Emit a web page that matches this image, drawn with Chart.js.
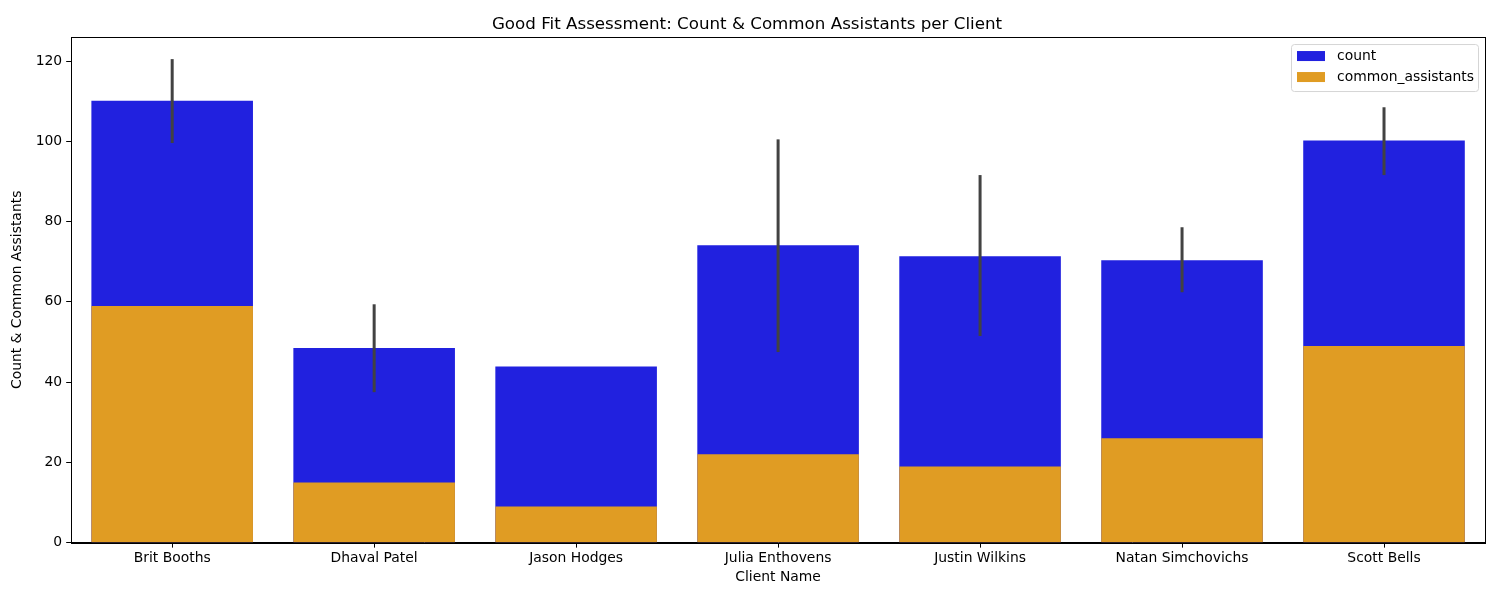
<!DOCTYPE html>
<html>
<head>
<meta charset="utf-8">
<script src="https://cdn.jsdelivr.net/npm/chart.js@4.4.1/dist/chart.umd.min.js"></script>
<style>
  html, body { margin: 0; padding: 0; background: #fff; }
  #wrap { width: 1500px; height: 600px; }
</style>
</head>
<body>
<div id="wrap"><canvas id="grafico"></canvas></div>
<script>
// Dados
const clientes = ['Brit Booths', 'Dhaval Patel', 'Jason Hodges', 'Julia Enthovens', 'Justin Wilkins', 'Natan Simchovichs', 'Scott Bells'];
const contagem = [110.1, 48.5, 43.9, 74.1, 71.4, 70.4, 100.2];
const assistentesComuns = [59, 15, 9, 22, 19, 26, 49];
// intervalo de confiança da contagem (null = sem barra de erro)
const erroMin = [99.6, 37.5, null, 47.5, 51.5, 62.4, 91.6];
const erroMax = [120.5, 59.4, null, 100.5, 91.6, 78.6, 108.5];
const ticksY = [0, 20, 40, 60, 80, 100, 120];

const fonte = 'DejaVu Sans';
const tamanho = 13.9;

// barras de erro desenhadas com as escalas do Chart.js
const barrasErro = {
    id: 'barrasErro',
    afterDatasetsDraw(chart) {
        const ctx = chart.ctx;
        const x = chart.scales.x, y = chart.scales.y;
        ctx.save();
        ctx.strokeStyle = '#424242';
        ctx.lineWidth = 3;
        clientes.forEach((c, i) => {
            if (erroMin[i] == null) return;
            const px = x.getPixelForValue(i);
            ctx.beginPath();
            ctx.moveTo(px, y.getPixelForValue(erroMin[i]));
            ctx.lineTo(px, y.getPixelForValue(erroMax[i]));
            ctx.stroke();
        });
        ctx.restore();
    }
};

// moldura do eixo + legenda no canto superior direito
const molduraLegenda = {
    id: 'molduraLegenda',
    afterDraw(chart) {
        const ctx = chart.ctx;
        const a = chart.chartArea;
        ctx.save();
        ctx.strokeStyle = '#000';
        ctx.lineWidth = 1;
        ctx.strokeRect(Math.round(a.left) + 0.5, Math.round(a.top) + 0.5, Math.round(a.right - a.left), Math.round(a.bottom - a.top));

        const itens = chart.data.datasets.map(d => ({ texto: d.label, cor: d.backgroundColor }));
        const w = 187, h = 47;
        const lx = a.right - 7 - w, ly = a.top + 7;
        ctx.fillStyle = 'rgba(255,255,255,0.8)';
        ctx.strokeStyle = '#d5d5d5';
        ctx.beginPath();
        ctx.roundRect(lx + 0.5, ly + 0.5, w, h, 3);
        ctx.fill();
        ctx.stroke();
        ctx.font = tamanho + 'px "' + fonte + '"';
        ctx.textBaseline = 'middle';
        itens.forEach((it, k) => {
            const cy = ly + 12 + k * 21;
            ctx.fillStyle = it.cor;
            ctx.fillRect(lx + 6, cy - 5, 28, 10);
            ctx.fillStyle = '#000';
            ctx.fillText(it.texto, lx + 46, cy);
        });
        ctx.restore();
    }
};

const config = {
    type: 'bar',
    data: {
        labels: clientes,
        datasets: [
            {
                label: 'count',
                data: contagem,
                backgroundColor: '#2121df',
                borderWidth: 0,
                inflateAmount: 0,
                grouped: false,
                order: 1,
                categoryPercentage: 0.8,
                barPercentage: 1.0
            },
            {
                label: 'common_assistants',
                data: assistentesComuns,
                backgroundColor: '#e09c23',
                borderWidth: 0,
                grouped: false,
                order: 0,
                categoryPercentage: 0.8,
                barPercentage: 1.0
            }
        ]
    },
    options: {
        responsive: true,
        maintainAspectRatio: false,
        animation: false,
        layout: { padding: { left: 9, right: 15, top: 2, bottom: 14 } },
        plugins: {
            legend: { display: false },
            tooltip: { enabled: false },
            title: {
                display: true,
                text: 'Good Fit Assessment: Count & Common Assistants per Client',
                color: '#000',
                font: { family: fonte, size: 16.7, weight: 'normal' },
                padding: { top: 13, bottom: 2 }
            }
        },
        scales: {
            x: {
                offset: true,
                grid: { display: true, offset: false, drawOnChartArea: false, tickLength: 5, color: '#000' },
                border: { display: true, color: '#000' },
                ticks: { color: '#000', font: { family: fonte, size: tamanho }, padding: 2, maxRotation: 0 },
                title: {
                    display: true, text: 'Client Name', color: '#000',
                    font: { family: fonte, size: tamanho }, padding: { top: 1, bottom: 0 }
                }
            },
            y: {
                min: 0,
                max: 126,
                afterBuildTicks(scale) { scale.ticks = ticksY.map(v => ({ value: v })); },
                grid: { display: true, drawOnChartArea: false, tickLength: 5, color: '#000' },
                border: { display: true, color: '#000' },
                ticks: { color: '#000', font: { family: fonte, size: tamanho }, padding: 4 },
                title: {
                    display: true, text: 'Count & Common Assistants', color: '#000',
                    font: { family: fonte, size: tamanho }, padding: { top: 0, bottom: 6 }
                }
            }
        }
    },
    plugins: [barrasErro, molduraLegenda]
};

window.onload = function() {
    const ctx = document.getElementById('grafico').getContext('2d');
    new Chart(ctx, config);
};
</script>
</body>
</html>
